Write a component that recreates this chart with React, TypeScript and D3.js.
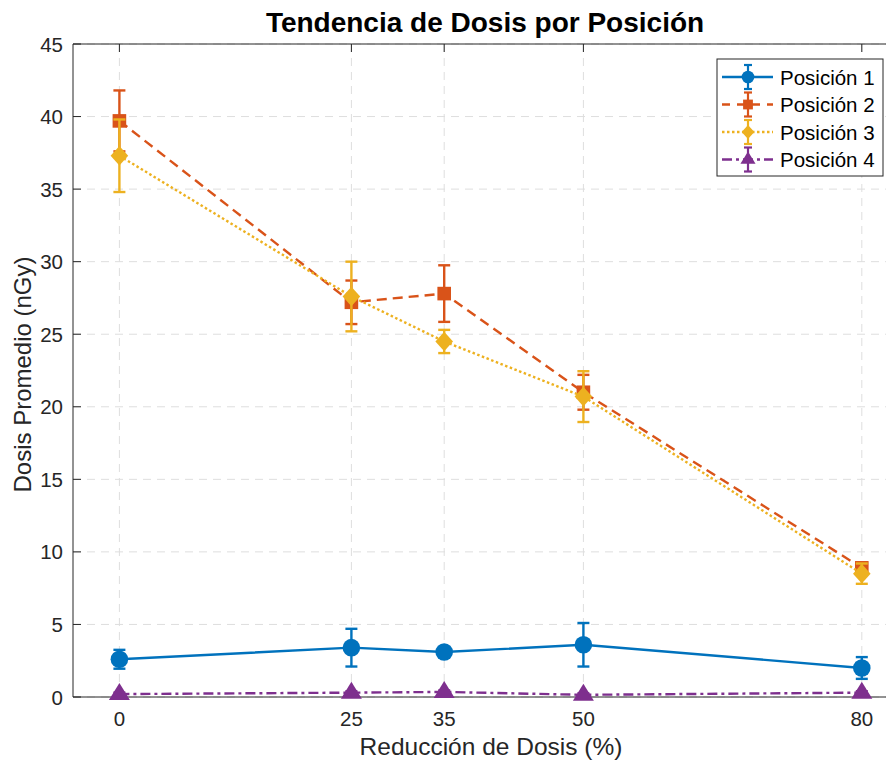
import React from 'react';
import * as d3 from 'd3';

// datos
const reducciones = [0, 25, 35, 50, 80];
const xTicks = [0, 25, 35, 50, 80];
const yTicks = [0, 5, 10, 15, 20, 25, 30, 35, 40, 45];

const pos1 = [2.6, 3.4, 3.1, 3.6, 2.0];
const err1 = [0.65, 1.3, 0.3, 1.5, 0.75];
const pos2 = [39.7, 27.2, 27.8, 21.0, 8.9];
const err2 = [2.1, 1.5, 1.95, 1.2, 0.35];
const pos3 = [37.3, 27.6, 24.5, 20.7, 8.5];
const err3 = [2.5, 2.4, 0.8, 1.75, 0.7];
const pos4 = [0.2, 0.3, 0.35, 0.15, 0.3];
const err4 = [0.1, 0.1, 0.1, 0.1, 0.1];

const nombres = ['Posición 1', 'Posición 2', 'Posición 3', 'Posición 4'];
const colores = ['#0072BD', '#D95319', '#EDB120', '#7E2F8E'];
const trazos = ['none', '10,6', '2.5,2.5', '10,4,3,4'];
const simbolos = ['circle', 'square', 'diamond', 'triangle'];

const W = 886;
const H = 762;
const FONT = '"Liberation Sans", Arial, Helvetica, sans-serif';

const Marker = ({ tipo, x, y, color, s = 1 }: any) => {
  if (tipo === 'circle') return <circle cx={x} cy={y} r={8.8 * s} fill={color} />;
  if (tipo === 'square') return <rect x={x - 6.8 * s} y={y - 6.8 * s} width={13.6 * s} height={13.6 * s} fill={color} />;
  if (tipo === 'diamond') {
    const w = 8.8 * s, h = 9.8 * s;
    return <path d={`M${x},${y - h}L${x + w},${y}L${x},${y + h}L${x - w},${y}Z`} fill={color} />;
  }
  const w = 10.5 * s;
  return <path d={`M${x},${y - 11 * s}L${x + w},${y + 6 * s}L${x - w},${y + 6 * s}Z`} fill={color} />;
};

export default function App() {
  const x = d3.scaleLinear().domain([-5, 85]).range([73, 908.2]);
  const y = d3.scaleLinear().domain([0, 45]).range([697, 44]);
  const left = 73, top = 44, bottom = 697, right = 908;

  const series = [
    { v: pos1, e: err1 },
    { v: pos2, e: err2 },
    { v: pos3, e: err3 },
    { v: pos4, e: err4 },
  ];

  const line = d3.line<number>()
    .x((_, i) => x(reducciones[i]))
    .y(d => y(d));

  const cap = 6;

  return (
    <div style={{ position: 'absolute', left: 0, top: 0 }}>
      <svg width={W} height={H} style={{ display: 'block', background: '#fff' }} fontFamily={FONT}>
        <rect x={left} y={top} width={right - left} height={bottom - top} fill="#fff" />

        {/* rejilla */}
        {xTicks.map(t => (
          <line key={'gx' + t} x1={x(t)} x2={x(t)} y1={top} y2={bottom} stroke="#dedede" strokeWidth={1} strokeDasharray="8,6" />
        ))}
        {yTicks.map(t => (
          <line key={'gy' + t} x1={left} x2={right} y1={y(t)} y2={y(t)} stroke="#dedede" strokeWidth={1} strokeDasharray="8,6" />
        ))}

        {/* ejes (debajo de las series, como en MATLAB los marcadores tapan el eje) */}
        <line x1={left} x2={right} y1={top} y2={top} stroke="#262626" strokeWidth={1} />
        <line x1={left} x2={right} y1={bottom} y2={bottom} stroke="#262626" strokeWidth={1} />
        <line x1={left} x2={left} y1={top} y2={bottom} stroke="#262626" strokeWidth={1} />
        {xTicks.map(t => (
          <g key={'tx' + t}>
            <line x1={x(t)} x2={x(t)} y1={bottom} y2={bottom - 8} stroke="#262626" />
            <line x1={x(t)} x2={x(t)} y1={top} y2={top + 8} stroke="#262626" />
            <text x={x(t)} y={bottom + 29} textAnchor="middle" fontSize={20.5} fill="#262626">{t}</text>
          </g>
        ))}
        {yTicks.map(t => (
          <g key={'ty' + t}>
            <line x1={left} x2={left + 8} y1={y(t)} y2={y(t)} stroke="#262626" />
            <text x={left - 10} y={y(t) + 7.5} textAnchor="end" fontSize={20.5} fill="#262626">{t}</text>
          </g>
        ))}

        {/* series */}
        <g>
          {series.map((s, k) => (
            <g key={'s' + k}>
              <path d={line(s.v) || ''} fill="none" stroke={colores[k]} strokeWidth={2.4}
                strokeDasharray={trazos[k] === 'none' ? undefined : trazos[k]} />
              {s.v.map((v, i) => {
                const cx = x(reducciones[i]);
                const y1 = y(v + s.e[i]);
                const y2 = y(v - s.e[i]);
                return (
                  <g key={i} stroke={colores[k]} strokeWidth={2.4}>
                    <line x1={cx} x2={cx} y1={y1} y2={y2} />
                    <line x1={cx - cap} x2={cx + cap} y1={y1} y2={y1} />
                    <line x1={cx - cap} x2={cx + cap} y1={y2} y2={y2} />
                  </g>
                );
              })}
              {s.v.map((v, i) => (
                <Marker key={'m' + i} tipo={simbolos[k]} x={x(reducciones[i])} y={y(v)} color={colores[k]} />
              ))}
            </g>
          ))}
        </g>

        {/* textos */}
        <text x={485} y={32} textAnchor="middle" fontSize={28} fontWeight="bold" fill="#000">Tendencia de Dosis por Posición</text>
        <text x={491} y={755} textAnchor="middle" fontSize={24.5} fill="#262626">Reducción de Dosis (%)</text>
        <text transform={`translate(31,${(top + bottom) / 2 + 4}) rotate(-90)`} textAnchor="middle" fontSize={24} fill="#262626">Dosis Promedio (nGy)</text>

        {/* leyenda */}
        <g>
          <rect x={717} y={59} width={166} height={117} fill="#fff" stroke="#262626" strokeWidth={1} />
          {nombres.map((n, k) => {
            const ly = 77 + k * 27.5;
            return (
              <g key={'l' + k}>
                <line x1={722} x2={773} y1={ly} y2={ly} stroke={colores[k]} strokeWidth={2.4}
                  strokeDasharray={trazos[k] === 'none' ? undefined : (k === 1 ? '8,7' : trazos[k])} />
                <g stroke={colores[k]} strokeWidth={2.2}>
                  <line x1={748} x2={748} y1={ly - 12} y2={ly + 12} />
                  <line x1={744} x2={752} y1={ly - 12} y2={ly - 12} />
                  <line x1={744} x2={752} y1={ly + 12} y2={ly + 12} />
                </g>
                <Marker tipo={simbolos[k]} x={748} y={ly} color={colores[k]} s={0.72} />
                <text x={780} y={ly + 7.5} fontSize={20.5} fill="#000">{n}</text>
              </g>
            );
          })}
        </g>
      </svg>
    </div>
  );
}
